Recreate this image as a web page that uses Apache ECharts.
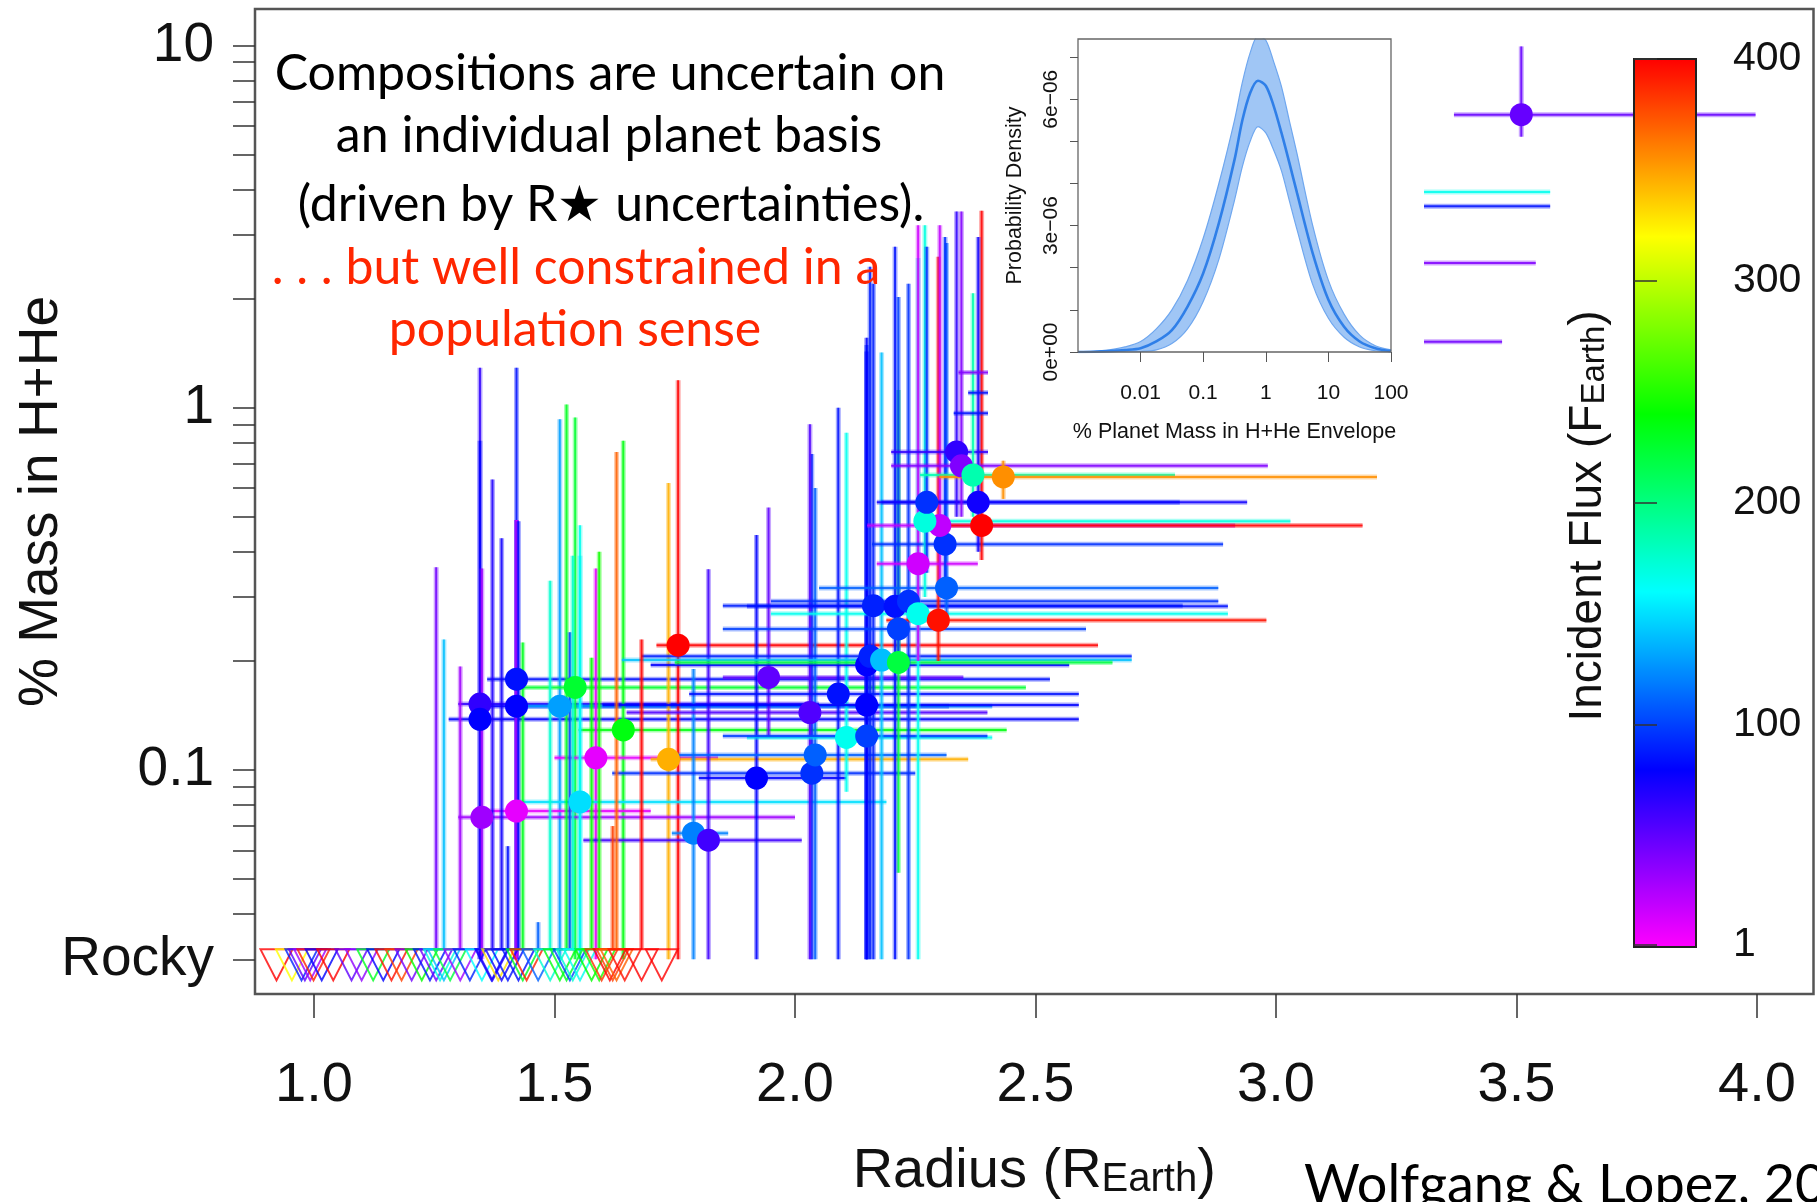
<!DOCTYPE html>
<html>
<head>
<meta charset="utf-8">
<script src="https://cdn.jsdelivr.net/npm/echarts@6/dist/echarts.min.js"></script>
<style>
html,body{margin:0;padding:0;background:#fff;overflow:hidden;}
#chart{width:1817px;height:1202px;}
</style>
</head>
<body>
<div id="chart"></div>
<script>
// ---------------- DATA ----------------
const ROCKY = 0.03; // value used for the "Rocky" row

// Planets with an H+He envelope (radius in R_Earth, mass fraction in %)
const planetFlux     = [65, 80, 85, 80, 130, 225, 235, 8, 345, 400, 30, 8, 150, 120, 60, 50, 80, 95, 110, 55, 85, 165, 100, 80, 80, 90, 140, 220, 90, 85, 95, 100, 165, 395, 110, 15, 95, 20, 170, 95, 400, 75, 65, 40, 185, 355, 48, 165, 85, 40, 45, 40, 85, 85];
const planetRadius   = [1.345, 1.345, 1.421, 1.421, 1.511, 1.543, 1.643, 1.586, 1.737, 1.757, 1.349, 1.421, 1.553, 1.789, 1.82, 1.945, 1.92, 2.035, 2.042, 2.031, 2.09, 2.107, 2.149, 2.149, 2.149, 2.156, 2.18, 2.215, 2.163, 2.208, 2.236, 2.215, 2.256, 2.298, 2.315, 2.256, 2.312, 2.301, 2.27, 2.274, 2.388, 2.381, 2.336, 2.346, 2.37, 2.433, 3.51, 3.0, 3.0, 2.95, 2.9, 2.8, 2.8, 2.8];
const planetRadiusLo = [1.30, 1.28, 1.36, 1.35, 1.40, 1.42, 1.55, 1.50, 1.70, 1.712, 1.30, 1.36, 1.42, 1.744, 1.56, 1.85, 1.80, 1.62, 1.75, 1.65, 1.78, 1.90, 1.85, 1.60, 1.70, 1.68, 1.64, 1.75, 1.85, 1.90, 1.95, 1.85, 1.95, 2.19, 2.05, 2.17, 2.16, 2.15, 2.26, 2.18, 2.25, 2.17, 2.20, 2.20, 2.26, 2.30, 3.37, 2.75, 2.75, 2.70, 2.70, 2.34, 2.36, 2.33];
const planetRadiusHi = [2.05, 2.59, 2.53, 2.32, 2.41, 2.48, 2.44, 1.84, 2.36, 2.63, 2.00, 1.70, 2.19, 1.861, 2.014, 2.35, 2.107, 2.25, 2.315, 2.40, 2.59, 2.41, 2.40, 2.59, 2.57, 2.70, 2.70, 2.66, 2.806, 2.90, 2.88, 2.605, 2.90, 2.98, 2.88, 2.38, 2.89, 2.915, 3.03, 2.80, 3.18, 2.94, 2.98, 2.983, 2.79, 3.21, 3.997, 3.57, 3.57, 3.54, 3.47, 2.90, 2.90, 2.90];
const planetMass     = [0.152, 0.138, 0.178, 0.150, 0.150, 0.169, 0.129, 0.108, 0.107, 0.221, 0.074, 0.077, 0.0816, 0.0669, 0.064, 0.180, 0.095, 0.098, 0.110, 0.144, 0.162, 0.123, 0.124, 0.151, 0.195, 0.206, 0.201, 0.198, 0.284, 0.283, 0.292, 0.245, 0.270, 0.259, 0.318, 0.371, 0.420, 0.473, 0.486, 0.548, 0.473, 0.548, 0.755, 0.691, 0.652, 0.644, 6.44, 3.94, 3.60, 2.51, 1.52, 1.25, 1.10, 0.966];
// null = lower bound reaches the Rocky row
const planetMassLo   = [null, null, null, null, null, null, null, null, null, null, null, null, null, null, null, 0.124, null, null, null, null, null, 0.087, null, null, null, null, null, 0.052, null, null, null, 0.20, null, 0.20, 0.25, 0.20, 0.30, 0.30, 0.30, 0.35, 0.38, 0.40, 0.50, 0.50, 0.50, 0.56, 5.6, 2.5, 2.4, 1.6, 1.3, 1.1, 1.0, 0.9];
const planetMassHi   = [1.29, 0.81, 1.29, 0.49, 0.93, 0.94, 0.81, 0.36, 0.62, 1.19, 0.36, 0.49, 0.39, 0.19, 0.358, 0.53, 0.445, 0.745, 0.60, 0.90, 1.00, 0.853, 1.49, 1.56, 1.43, 2.45, 1.42, 1.12, 2.20, 2.78, 2.20, 2.02, 2.59, 2.61, 2.85, 3.19, 2.96, 3.19, 3.19, 2.78, 3.50, 2.96, 3.48, 3.48, 2.07, 0.714, 9.94, 7.0, 6.5, 4.0, 2.0, 1.4, 1.2, 1.05];

// Rocky planets (triangles on the Rocky row)
const rockyRadius = [0.922, 0.954, 0.974, 0.981, 0.992, 0.999, 1.016, 1.040, 1.078, 1.099, 1.123, 1.144, 1.161, 1.182, 1.203, 1.224, 1.241, 1.254, 1.262, 1.270, 1.283, 1.304, 1.324, 1.349, 1.369, 1.371, 1.383, 1.390, 1.403, 1.425, 1.434, 1.442, 1.466, 1.491, 1.511, 1.525, 1.532, 1.538, 1.553, 1.577, 1.593, 1.598, 1.615, 1.621, 1.629, 1.646, 1.681, 1.723];
const rockyFlux   = [400, 320, 90, 50, 30, 390, 80, 400, 50, 35, 230, 80, 395, 380, 45, 240, 85, 45, 170, 140, 220, 30, 90, 160, 80, 70, 330, 75, 85, 85, 230, 390, 110, 175, 235, 230, 100, 175, 165, 240, 245, 385, 400, 380, 370, 395, 400, 400];
// upper bound of % mass (null = no bar)
const rockyMassHi = [null, null, null, null, null, null, null, null, null, null, null, null, null, null, null, null, null, 0.363, null, 0.229, null, 0.193, null, null, null, 0.634, null, 0.436, 0.0616, 0.486, 0.225, null, 0.038, 0.333, null, 1.02, 0.24, 0.39, 0.474, 0.204, 0.40, null, null, 0.07, 0.755, null, 0.229, null];

// Main axes ticks
const xTickValues = [1.0, 1.5, 2.0, 2.5, 3.0, 3.5, 4.0];
const yTickValues = [10, 9, 8, 7, 6, 5, 4, 3, 2, 1, 0.9, 0.8, 0.7, 0.6, 0.5, 0.4, 0.3, 0.2, 0.1, 0.09, 0.08, 0.07, 0.06, 0.05, 0.04, 0.03];
const yLabelValues = [0.03, 0.1, 1, 10];
const yLabelTexts  = ['Rocky', '0.1', '1', '10'];

// Inset: posterior of the population H+He distribution (density in units of 1e-6)
const insetX      = [0.001, 0.00178, 0.00316, 0.00562, 0.01, 0.0178, 0.0316, 0.0562, 0.1, 0.178, 0.316, 0.422, 0.562, 0.75, 1, 1.33, 1.78, 2.37, 3.16, 5.62, 10, 17.8, 31.6, 56.2, 100];
const insetMedian = [0, 0.005, 0.02, 0.045, 0.09, 0.25, 0.52, 1.08, 1.87, 3.06, 4.56, 5.5, 6.15, 6.44, 6.32, 5.85, 5.2, 4.5, 3.77, 2.34, 1.24, 0.6, 0.25, 0.09, 0.02];
const insetUpper  = [0, 0.015, 0.05, 0.12, 0.25, 0.55, 1.0, 1.7, 2.7, 4.0, 5.5, 6.4, 7.1, 7.5, 7.4, 6.9, 6.3, 5.5, 4.7, 3.0, 1.7, 0.9, 0.4, 0.15, 0.05];
const insetLower  = [0, 0, 0, 0.003, 0.01, 0.05, 0.2, 0.55, 1.2, 2.2, 3.6, 4.4, 5.0, 5.35, 5.2, 4.8, 4.3, 3.6, 2.9, 1.6, 0.8, 0.35, 0.12, 0.03, 0];
const insetXTicks = [0.01, 0.1, 1, 10, 100];
const insetXTickTexts = ['0.01', '0.1', '1', '10', '100'];
const insetYTicks = [0, 1, 2, 3, 4, 5, 6, 7];
const insetYLabelValues = [0, 3, 6];
const insetYLabelTexts = ['0e+00', '3e\u221206', '6e\u221206'];

// Colour bar (incident flux)
const fluxTicks = [1, 100, 200, 300, 400];
const fluxPalette = ['#ff00ff', '#0000ff', '#00ffff', '#00ff00', '#ffff00', '#ff0000'];

// ---------------- BUILD ----------------
const barData = planetFlux.map((f, i) => [f, planetRadius[i], planetRadiusLo[i], planetRadiusHi[i], planetMass[i], planetMassLo[i] == null ? ROCKY : planetMassLo[i], planetMassHi[i]]);
const pointData = planetFlux.map((f, i) => [f, planetRadius[i], planetMass[i]]);
const rockyData = rockyFlux.map((f, i) => [f, rockyRadius[i], ROCKY, rockyMassHi[i] == null ? ROCKY : rockyMassHi[i]]);

const AXIS_FONT = 'Liberation Sans, Arial, Helvetica, sans-serif';
const NOTE_FONT = 'Lato, "Open Sans", sans-serif';

function pick(values, texts, v) {
  let best = 0, bd = Infinity;
  values.forEach((x, i) => { const d = Math.abs(Math.log(x + 1e-9) - Math.log(v + 1e-9)); if (d < bd) { bd = d; best = i; } });
  return texts[best];
}
function pickLin(values, texts, v) {
  let best = 0, bd = Infinity;
  values.forEach((x, i) => { const d = Math.abs(x - v); if (d < bd) { bd = d; best = i; } });
  return texts[best];
}

function seg(p, q, c) {
  return [
    {type: 'line', shape: {x1: p[0], y1: p[1], x2: q[0], y2: q[1]}, style: {stroke: c, lineWidth: 5, opacity: 0.35}},
    {type: 'line', shape: {x1: p[0], y1: p[1], x2: q[0], y2: q[1]}, style: {stroke: c, lineWidth: 2, opacity: 0.85}}
  ];
}

function renderPlanetBars(params, api) {
  const c = api.visual('color');
  const x = api.value(1), y = api.value(4);
  const a = api.coord([api.value(2), y]);
  const b = api.coord([api.value(3), y]);
  const lo = api.coord([x, api.value(5)]);
  const hi = api.coord([x, api.value(6)]);
  return {type: 'group', children: seg(a, b, c).concat(seg(lo, hi, c))};
}

function renderRocky(params, api) {
  const c = api.visual('color');
  const p = api.coord([api.value(1), api.value(2)]);
  const children = [];
  if (api.value(3) > api.value(2)) {
    const top = api.coord([api.value(1), api.value(3)]);
    children.push(...seg([p[0], p[1] - 10], top, c));
  }
  children.push({
    type: 'polygon',
    shape: {points: [[p[0] - 16, p[1] - 10], [p[0] + 16, p[1] - 10], [p[0], p[1] + 21]]},
    style: {fill: 'none', stroke: c, lineWidth: 2, opacity: 0.8}
  });
  return {type: 'group', children};
}

const noteStyle = (text, x, y, color) => ({
  type: 'text', x: x, y: y, z: 100, silent: true,
  style: {text: text, fill: color, font: '50px ' + NOTE_FONT, textAlign: 'center', textVerticalAlign: 'middle'}
});

const option = {
  backgroundColor: '#ffffff',
  animation: false,
  grid: [
    {left: 255, top: 9, width: 1558.5, height: 985, show: true, borderColor: '#555', borderWidth: 2.5, backgroundColor: 'transparent', z: 0, outerBoundsMode: 'none', containLabel: false},
    {left: 1078, top: 39, width: 313, height: 313, show: true, borderColor: '#666', borderWidth: 1.3, backgroundColor: 'transparent', z: 61, outerBoundsMode: 'none', containLabel: false},
    {left: 1634, top: 59, width: 62, height: 888, show: true, borderColor: '#222', borderWidth: 2, backgroundColor: 'transparent', z: 20, outerBoundsMode: 'none', containLabel: false}
  ],
  xAxis: [
    {
      gridIndex: 0, type: 'value', min: 0.8773, max: 4.1175,
      axisLine: {show: false}, splitLine: {show: false},
      axisTick: {show: true, inside: false, length: 24, customValues: xTickValues, lineStyle: {color: '#333', width: 1.5}},
      axisLabel: {show: true, customValues: xTickValues, margin: 64, fontSize: 56, fontFamily: AXIS_FONT, color: '#111', formatter: v => v.toFixed(1)},
      name: 'Radius (R{sub|Earth})', nameLocation: 'middle', nameGap: 150, nameMoveOverlap: false,
      nameTextStyle: {fontSize: 56, fontFamily: AXIS_FONT, color: '#111', rich: {sub: {fontSize: 40, fontFamily: AXIS_FONT, color: '#111', verticalAlign: 'bottom', lineHeight: 40}}}
    },
    {
      gridIndex: 1, type: 'log', logBase: 10, min: 0.001, max: 100, z: 61,
      axisLine: {show: false}, splitLine: {show: false},
      axisTick: {show: true, inside: false, length: 10, customValues: insetXTicks, lineStyle: {color: '#555', width: 1}},
      axisLabel: {show: true, customValues: insetXTicks, margin: 31, fontSize: 21, fontFamily: AXIS_FONT, color: '#111', formatter: v => pick(insetXTicks, insetXTickTexts, v)},
      name: '% Planet Mass in H+He Envelope', nameLocation: 'middle', nameGap: 69,
      nameTextStyle: {fontSize: 21.5, fontFamily: AXIS_FONT, color: '#111'}
    },
    {gridIndex: 2, type: 'value', min: 0, max: 1, show: false}
  ],
  yAxis: [
    {
      gridIndex: 0, type: 'log', logBase: 10, min: 0.02407, max: 12.61,
      axisLine: {show: false}, splitLine: {show: false}, minorTick: {show: false},
      axisTick: {show: true, inside: false, length: 22, customValues: yTickValues, lineStyle: {color: '#333', width: 1.5}},
      axisLabel: {show: true, customValues: yLabelValues, margin: 41, fontSize: 55, fontFamily: AXIS_FONT, color: '#111', formatter: v => pick(yLabelValues, yLabelTexts, v)},
      name: '% Mass in H+He', nameLocation: 'middle', nameGap: 186, nameMoveOverlap: false,
      nameTextStyle: {fontSize: 55, fontFamily: AXIS_FONT, color: '#111'}
    },
    {
      gridIndex: 1, type: 'value', min: 0, max: 7.43, z: 61,
      axisLine: {show: false}, splitLine: {show: false},
      axisTick: {show: true, inside: false, length: 8, customValues: insetYTicks, lineStyle: {color: '#555', width: 1}},
      axisLabel: {show: true, customValues: insetYLabelValues, rotate: 90, margin: 16, fontSize: 21, fontFamily: AXIS_FONT, color: '#111', formatter: v => pickLin(insetYLabelValues, insetYLabelTexts, v)},
      name: 'Probability Density', nameLocation: 'middle', nameGap: 52,
      nameTextStyle: {fontSize: 21.5, fontFamily: AXIS_FONT, color: '#111'}
    },
    {
      gridIndex: 2, type: 'value', min: 0, max: 400, position: 'right', z: 20,
      axisLine: {show: false}, splitLine: {show: false},
      axisTick: {show: true, inside: false, length: 23, customValues: fluxTicks, lineStyle: {color: '#333', width: 1.5}},
      axisLabel: {show: true, customValues: fluxTicks, margin: 37, fontSize: 41, fontFamily: AXIS_FONT, color: '#111'}
    }
  ],
  visualMap: [{
    type: 'continuous', min: 0, max: 400, dimension: 0, seriesIndex: [0, 1, 2],
    inRange: {color: fluxPalette},
    calculable: false, hoverLink: false, realtime: false, show: true, orient: 'vertical',
    left: 1634, top: 59, itemWidth: 62, itemHeight: 888, padding: 0, z: 10,
    borderWidth: 0, backgroundColor: 'transparent'
  }],
  graphic: {
    elements: [
      {type: 'rect', z: 50, silent: true, shape: {x: 988, y: 11, width: 436, height: 447}, style: {fill: '#ffffff'}},
      noteStyle('Compositions are uncertain on', 610, 74, '#000'),
      noteStyle('an individual planet basis', 609, 136, '#000'),
      noteStyle('(driven by R\u2605 uncertainties).', 611, 205, '#000'),
      noteStyle('. . . but well constrained in a', 576, 268, '#ff2600'),
      noteStyle('population sense', 575, 330, '#ff2600'),
      {
        type: 'text', x: 1588, y: 516, rotation: Math.PI / 2, z: 100, silent: true,
        style: {
          text: 'Incident Flux (F{sub|Earth})', fill: '#111', font: '46px ' + AXIS_FONT,
          textAlign: 'center', textVerticalAlign: 'middle',
          rich: {sub: {fontSize: 33, fontFamily: AXIS_FONT, fill: '#111', verticalAlign: 'bottom', lineHeight: 33}}
        }
      },
      {
        type: 'text', x: 1304, y: 1159, z: 100, silent: true,
        style: {text: 'Wolfgang & Lopez, 2015', fill: '#000', font: '54px ' + NOTE_FONT, textAlign: 'left', textVerticalAlign: 'top'}
      }
    ]
  },
  series: [
    {
      type: 'custom', name: 'bars', xAxisIndex: 0, yAxisIndex: 0, clip: true, z: 2, silent: true,
      encode: {x: [1, 2, 3], y: [4, 5, 6]},
      renderItem: renderPlanetBars, data: barData
    },
    {
      type: 'custom', name: 'rocky', xAxisIndex: 0, yAxisIndex: 0, clip: true, z: 3, silent: true,
      encode: {x: 1, y: [2, 3]},
      renderItem: renderRocky, data: rockyData
    },
    {
      type: 'scatter', name: 'planets', xAxisIndex: 0, yAxisIndex: 0, clip: true, z: 4, silent: true,
      encode: {x: 1, y: 2}, symbol: 'circle', symbolSize: 23,
      itemStyle: {opacity: 1}, data: pointData
    },
    {
      type: 'line', name: 'upper', xAxisIndex: 1, yAxisIndex: 1, z: 60, silent: true, symbol: 'none', smooth: 0.3,
      data: insetX.map((x, i) => [x, insetUpper[i]]),
      lineStyle: {color: '#6fa7ef', width: 1.2}, areaStyle: {color: '#a0c6f5', opacity: 1}
    },
    {
      type: 'line', name: 'lower', xAxisIndex: 1, yAxisIndex: 1, z: 60, silent: true, symbol: 'none', smooth: 0.3,
      data: insetX.map((x, i) => [x, insetLower[i]]),
      lineStyle: {color: '#6fa7ef', width: 1.2}, areaStyle: {color: '#ffffff', opacity: 1}
    },
    {
      type: 'line', name: 'median', xAxisIndex: 1, yAxisIndex: 1, z: 60, silent: true, symbol: 'none', smooth: 0.3,
      data: insetX.map((x, i) => [x, insetMedian[i]]),
      lineStyle: {color: '#2f7fe8', width: 2.6}
    }
  ]
};

const chart = echarts.init(document.getElementById('chart'), null, {renderer: 'canvas'});
chart.setOption(option);
</script>
</body>
</html>
